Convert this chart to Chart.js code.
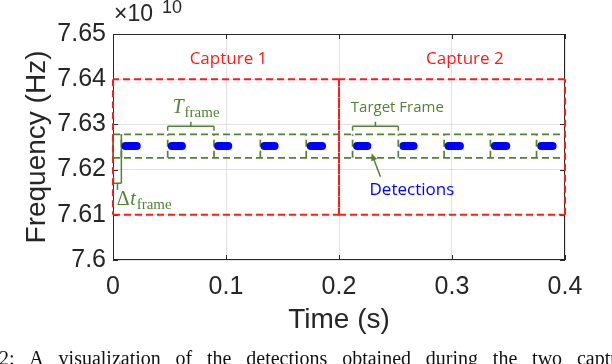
<!DOCTYPE html>
<html>
<head>
<meta charset="utf-8">
<script src="https://cdn.jsdelivr.net/npm/chart.js@4"></script>
<style>
  html, body { margin: 0; padding: 0; background: #fff; }
  #wrap { width: 612px; height: 364px; }
</style>
</head>
<body>
<div id="wrap"><canvas id="chart" width="612" height="364"></canvas></div>
<script>
// axes: time in s, frequency in units of 1e10 Hz
const xTickLabels = ['0', '0.1', '0.2', '0.3', '0.4'];
const yTickLabels = ['7.6', '7.61', '7.62', '7.63', '7.64', '7.65'];

// capture windows (red)
const captureStart = [0, 0.2];
const captureEnd = [0.2, 0.4];
const captureLow = 7.61;
const captureHigh = 7.64;

// target frame grid (green)
const frameEdges = [0, 0.0074, 0.0484, 0.0894, 0.1304, 0.171, 0.212, 0.2525, 0.293, 0.334, 0.3748];
const frameLow = 7.6226;
const frameHigh = 7.6278;

// detections (blue)
const detStart = [0.011, 0.052, 0.093, 0.134, 0.175, 0.216, 0.257, 0.297, 0.338, 0.379];
const detEnd = [0.021, 0.061, 0.102, 0.143, 0.185, 0.225, 0.266, 0.307, 0.348, 0.389];
const detFreq = 7.6252;

// brackets
const tFrameSpan = [0.0484, 0.0894];
const targetSpan = [0.212, 0.2525];
const bracketLevel = 7.6296;
const bracketArm = 7.6286;
const bracketTip = 7.6306;
const deltaSpan = [0.0005, 0.0074];
const deltaLevel = 7.617;
const deltaArm = 7.6183;
const deltaTip = 7.6155;

const RED = '#ff1a1a';
const GREEN = '#548235';
const BLUE = '#0000ff';
const INK = '#262626';

// turn [x0, y0, x1, y1] pieces into one broken line
function segs(list) {
  const out = [];
  list.forEach(s => {
    out.push({ x: s[0], y: s[1] }, { x: s[2], y: s[3] }, { x: s[2], y: null });
  });
  return out;
}

const detSegs = detStart.map((s, i) => [s, detFreq, detEnd[i], detFreq]);

const captureSegs = [];
captureStart.forEach((s, i) => {
  const e = captureEnd[i];
  captureSegs.push([s, captureLow, e, captureLow], [e, captureLow, e, captureHigh],
    [e, captureHigh, s, captureHigh], [s, captureHigh, s, captureLow]);
});

const frameSegs = [[0, frameHigh, 0.4, frameHigh], [0, frameLow, 0.4, frameLow]];
frameEdges.forEach(e => frameSegs.push([e, frameLow, e, frameHigh]));

const bracketSegs = [];
[tFrameSpan, targetSpan].forEach(sp => {
  const mid = (sp[0] + sp[1]) / 2;
  bracketSegs.push([sp[0], bracketArm, sp[0], bracketLevel], [sp[0], bracketLevel, sp[1], bracketLevel],
    [sp[1], bracketLevel, sp[1], bracketArm], [mid, bracketLevel, mid, bracketTip]);
});
bracketSegs.push([deltaSpan[0], deltaArm, deltaSpan[0], deltaLevel], [deltaSpan[0], deltaLevel, deltaSpan[1], deltaLevel],
  [deltaSpan[1], deltaLevel, deltaSpan[1], frameHigh],
  [(deltaSpan[0] + deltaSpan[1]) / 2, deltaLevel, (deltaSpan[0] + deltaSpan[1]) / 2, deltaTip]);

// text notes in data coordinates
const notes = [
  { text: 'Capture 1', x: 0.1022, y: 7.6444, color: RED, size: 17 },
  { text: 'Capture 2', x: 0.3114, y: 7.6444, color: RED, size: 17 },
  { text: 'Target Frame', x: 0.2516, y: 7.6336, color: GREEN, size: 15 },
  { text: 'Detections', x: 0.2645, y: 7.6155, color: BLUE, size: 17 }
];
const arrowFrom = { x: 0.2367, y: 7.6184 };
const arrowTo = { x: 0.2288, y: 7.6236 };

const annotations = {
  id: 'annotations',
  beforeDatasetsDraw(chart) {
    const { ctx, chartArea: a, scales: { x, y } } = chart;
    ctx.save();
    ctx.strokeStyle = INK;
    ctx.lineWidth = 1;
    ctx.strokeRect(a.left + 0.5, a.top + 0.5, a.right - a.left - 1, a.bottom - a.top - 1);
    ctx.beginPath();
    x.ticks.forEach(t => {
      const px = Math.round(x.getPixelForValue(t.value)) + 0.5;
      ctx.moveTo(px, a.bottom); ctx.lineTo(px, a.bottom - 5);
      ctx.moveTo(px, a.top); ctx.lineTo(px, a.top + 5);
    });
    y.ticks.forEach(t => {
      const py = Math.round(y.getPixelForValue(t.value)) + 0.5;
      ctx.moveTo(a.left, py); ctx.lineTo(a.left + 5, py);
      ctx.moveTo(a.right, py); ctx.lineTo(a.right - 5, py);
    });
    ctx.stroke();

    // exponent label
    ctx.fillStyle = INK;
    ctx.textBaseline = 'alphabetic';
    ctx.textAlign = 'left';
    ctx.font = '23px "Liberation Sans"';
    ctx.fillText('\u00d710', a.left + 1, a.top - 13);
    ctx.font = '18px "Liberation Sans"';
    ctx.fillText('10', a.left + 49, a.top - 21);
    ctx.restore();
  },
  afterDatasetsDraw(chart) {
    const { ctx, scales: { x, y } } = chart;
    ctx.save();
    ctx.textAlign = 'center';
    ctx.textBaseline = 'middle';
    notes.forEach(n => {
      ctx.fillStyle = n.color;
      ctx.font = n.size + 'px "Open Sans"';
      ctx.fillText(n.text, x.getPixelForValue(n.x), y.getPixelForValue(n.y));
    });

    // arrow to a detection
    const x0 = x.getPixelForValue(arrowFrom.x), y0 = y.getPixelForValue(arrowFrom.y);
    const x1 = x.getPixelForValue(arrowTo.x), y1 = y.getPixelForValue(arrowTo.y);
    const ang = Math.atan2(y1 - y0, x1 - x0);
    ctx.strokeStyle = GREEN;
    ctx.fillStyle = GREEN;
    ctx.lineWidth = 1.5;
    ctx.beginPath();
    ctx.moveTo(x0, y0);
    ctx.lineTo(x1 - 5 * Math.cos(ang), y1 - 5 * Math.sin(ang));
    ctx.stroke();
    ctx.beginPath();
    ctx.moveTo(x1, y1);
    ctx.lineTo(x1 - 8 * Math.cos(ang - 0.4), y1 - 8 * Math.sin(ang - 0.4));
    ctx.lineTo(x1 - 8 * Math.cos(ang + 0.4), y1 - 8 * Math.sin(ang + 0.4));
    ctx.closePath();
    ctx.fill();

    // T_frame and delta t_frame
    ctx.textAlign = 'left';
    ctx.textBaseline = 'alphabetic';
    const math = (main, mainFont, sub, vx, vy) => {
      const px = x.getPixelForValue(vx), py = y.getPixelForValue(vy);
      ctx.fillStyle = GREEN;
      ctx.font = mainFont;
      ctx.fillText(main, px, py);
      const w = ctx.measureText(main).width;
      ctx.font = '15px "Liberation Serif"';
      ctx.fillText(sub, px + w + 1, py + 4);
    };
    math('T', 'italic 20px "Liberation Serif"', 'frame', 0.0526, 7.6325);
    ctx.font = '20px "Liberation Serif"';
    const dw = ctx.measureText('\u0394').width;
    ctx.fillStyle = GREEN;
    ctx.fillText('\u0394', x.getPixelForValue(0.0033), y.getPixelForValue(7.6122));
    math('t', 'italic 20px "Liberation Serif"', 'frame', 0.0033 + dw / 1129.5 + 0.0005, 7.6122);
    ctx.restore();
  },
  afterDraw(chart) {
    const { ctx } = chart;
    ctx.save();
    ctx.fillStyle = '#111';
    ctx.font = '20px "Liberation Serif"';
    ctx.textAlign = 'left';
    ctx.textBaseline = 'alphabetic';
    ctx.wordSpacing = '9.8px';
    ctx.fillText('2: A visualization of the detections obtained during the two captures', -1, 365);
    ctx.restore();
  }
};

const lineSet = (data, color, width, dash, order, extra) => Object.assign({
  data, borderColor: color, backgroundColor: color, borderWidth: width, borderDash: dash,
  showLine: true, pointRadius: 0, spanGaps: false, clip: false, order
}, extra || {});

new Chart(document.getElementById('chart'), {
  type: 'scatter',
  data: {
    datasets: [
      lineSet(segs(detSegs), BLUE, 8, [], 1, { borderCapStyle: 'round' }),
      lineSet(segs(captureSegs), RED, 2, [7, 4], 2),
      lineSet(segs(bracketSegs), GREEN, 1.5, [], 3),
      lineSet(segs(frameSegs), GREEN, 1.7, [7, 4], 4)
    ]
  },
  options: {
    responsive: false,
    animation: false,
    devicePixelRatio: 1,
    layout: { padding: { top: 34, right: 47, left: 0, bottom: 0 } },
    plugins: { legend: { display: false }, tooltip: { enabled: false } },
    scales: {
      x: {
        type: 'linear', min: 0, max: 0.4,
        afterFit: s => { s.height = 104; },
        grid: { color: '#e2e2e2', drawTicks: false },
        border: { display: false },
        ticks: {
          stepSize: 0.1, padding: 12, color: INK,
          font: { family: 'Liberation Sans', size: 25 },
          callback: (v, i) => xTickLabels[i]
        },
        title: {
          display: true, text: 'Time (s)', color: INK,
          font: { family: 'Liberation Sans', size: 28 },
          padding: { top: 0, bottom: 27 }
        }
      },
      y: {
        type: 'linear', min: 7.6, max: 7.65,
        afterFit: s => { s.width = 113; },
        grid: { color: '#e2e2e2', drawTicks: false },
        border: { display: false },
        ticks: {
          stepSize: 0.01, padding: 7, color: INK,
          font: { family: 'Liberation Sans', size: 25 },
          callback: (v) => yTickLabels[Math.round((v - 7.6) / 0.01)]
        },
        title: {
          display: true, text: 'Frequency (Hz)', color: INK,
          font: { family: 'Liberation Sans', size: 28 },
          padding: { top: 20, bottom: 0 }
        }
      }
    }
  },
  plugins: [annotations]
});
</script>
</body>
</html>
